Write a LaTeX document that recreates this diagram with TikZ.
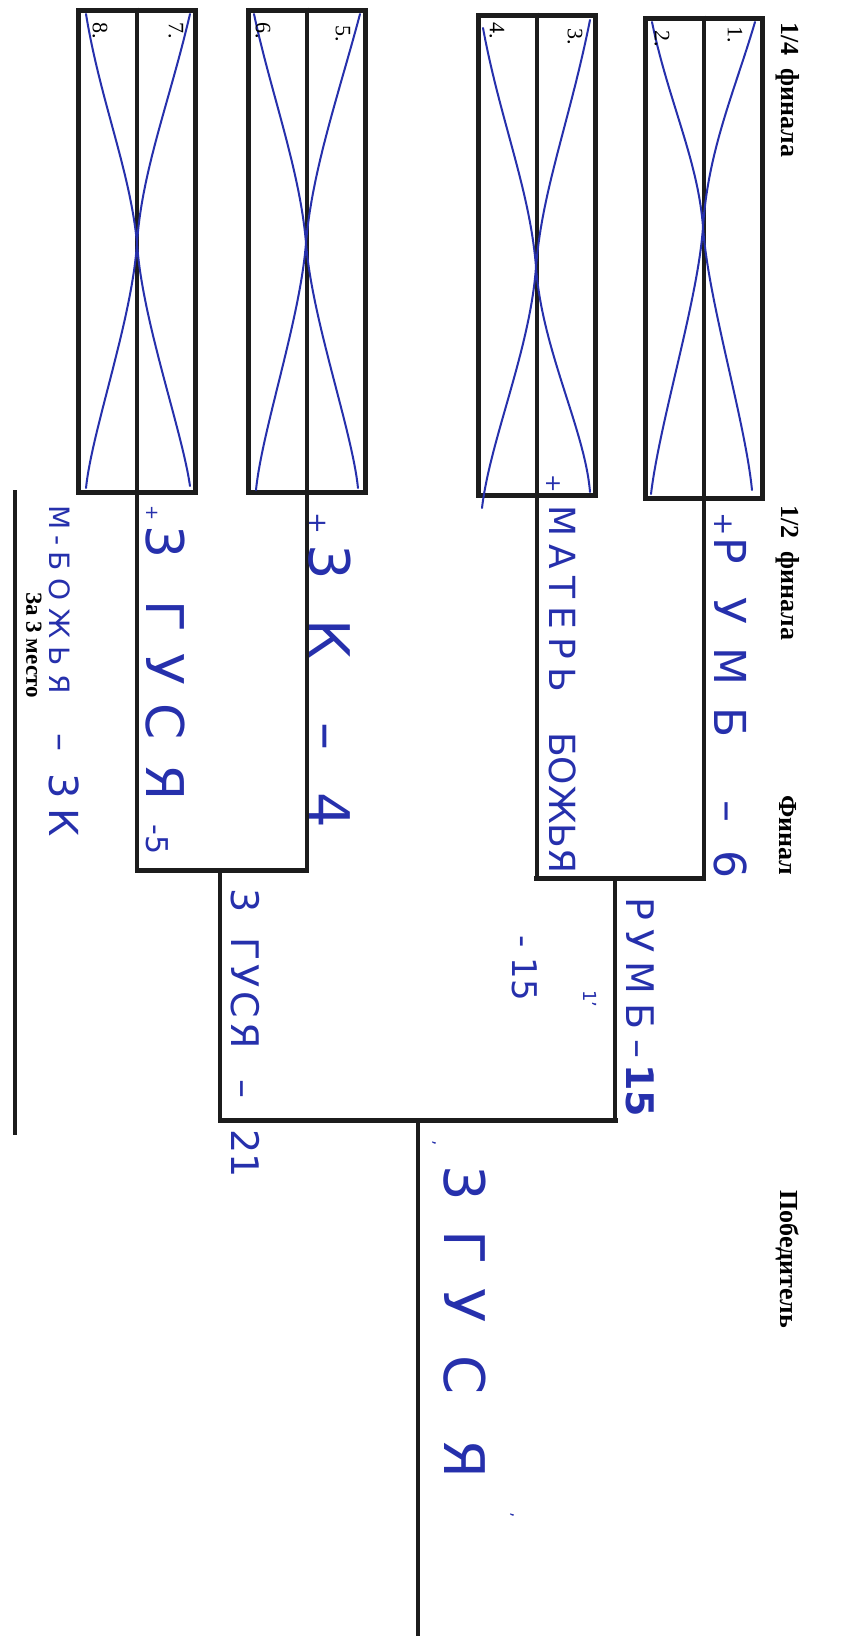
\documentclass[tikz,border=0pt]{standalone}
\usepackage{fontspec}
\setmainfont{Liberation Serif}
\newfontfamily\hand{DejaVu Sans}
\definecolor{ink}{RGB}{38,48,172}
\definecolor{lin}{RGB}{28,28,28}
\newcommand\gp[1]{\hspace{#1pt}}
\newcommand\fs[1]{\fontsize{#1}{#1}\selectfont}
\begin{document}
\begin{tikzpicture}[x=1pt,y=-1pt,
  box/.style={draw=lin, line width=5pt, minimum width=117pt, minimum height=480pt, inner sep=0pt},
  wire/.style={draw=lin, line width=4pt},
  bar/.style={draw=lin, line width=5pt, line cap=rect},
  pen/.style={draw=ink, line width=2pt, line cap=round},
  head/.style={font=\bfseries\fs{26}, rotate=-90, anchor=west, inner sep=0pt},
  num/.style={font=\fs{22}, rotate=-90, anchor=west, inner sep=0pt},
  hw/.style={text=ink, rotate=-90, anchor=west, inner sep=0pt},
]
\useasboundingbox (0,0) rectangle (850,1642);
\fill[white] (0,0) rectangle (850,1642);

% quarter-final boxes
\node[box] (q12) at (703.5,258) {};
\node[box] (q34) at (536.5,255) {};
\node[box, minimum height=482pt] (q56) at (306.5,251) {};
\node[box, minimum height=482pt] (q78) at (137,251) {};

% bracket coordinates
\coordinate (s1r) at (703.5,878);
\coordinate (s1l) at (536.5,878);
\coordinate (s1m) at (615,878);
\coordinate (s2r) at (306.5,870);
\coordinate (s2l) at (137,870);
\coordinate (s2m) at (220,870);
\coordinate (fr) at (615,1120);
\coordinate (fl) at (220,1120);
\coordinate (fm) at (418,1120);
\coordinate (wend) at (418,1636);
\coordinate (t3a) at (15,490);
\coordinate (t3b) at (15,1135);

\draw[wire] (q12.north) -- (s1r);
\draw[wire] (q34.north) -- (s1l);
\draw[wire] (q56.north) -- (s2r);
\draw[wire] (q78.north) -- (s2l);
\draw[bar] (s1l) -- (s1r);
\draw[bar] (s2l) -- (s2r);
\draw[wire] (s1m) -- (fr);
\draw[wire] (s2m) -- (fl);
\draw[bar] (fl) -- (fr);
\draw[wire] (fm) -- (wend);
\draw[wire] (t3a) -- (t3b);

% blue crosses
\draw[pen] (755,22) .. controls (735,90) and (708,150) .. (703,227) .. controls (698,300) and (660,420) .. (651,494);
\draw[pen] (652,22) .. controls (668,100) and (698,160) .. (703,227) .. controls (708,300) and (745,420) .. (752,490);
\draw[pen] (590,20) .. controls (570,120) and (542,190) .. (536,267) .. controls (530,350) and (490,440) .. (482,508);
\draw[pen] (483,28) .. controls (500,120) and (530,190) .. (536,267) .. controls (542,350) and (585,430) .. (590,492);
\draw[pen] (360,14) .. controls (340,90) and (312,170) .. (306,243) .. controls (300,320) and (262,430) .. (256,490);
\draw[pen] (254,14) .. controls (270,90) and (300,170) .. (306,243) .. controls (312,320) and (352,430) .. (358,488);
\draw[pen] (190,14) .. controls (170,100) and (142,170) .. (137,243) .. controls (132,320) and (92,430) .. (86,488);
\draw[pen] (86,14) .. controls (100,100) and (130,170) .. (137,243) .. controls (142,320) and (182,430) .. (190,486);

% printed headings
\node[head] (h14) at (788,22) {1/4\ \ финала};
\node[head] (h12) at (788,505) {1/2\ \ финала};
\node[head] (hfin) at (788,795) {Финал};
\node[head] (hwin) at (788,1190) {Победитель};
\node[head, font=\bfseries\fs{23}] (hthr) at (34,592) {За 3 место};

% seat numbers
\node[num] (n1) at (735,26) {1.};
\node[num] (n2) at (662,30) {2.};
\node[num] (n3) at (575,28) {3.};
\node[num] (n4) at (497,22) {4.};
\node[num] (n5) at (343,25) {5.};
\node[num] (n6) at (263,22) {6.};
\node[num] (n7) at (176,22) {7.};
\node[num] (n8) at (100,22) {8.};

% handwriting
\node[hw, font=\hand\fs{44}] (w1) at (731,512) {{\fs{28}+}\gp{2}Р\gp{33}У\gp{24}М\gp{22}Б\gp{62}–\gp{28}6};
\node[hw, font=\hand\fs{22}] (w2p) at (553,474) {+};
\node[hw, font=\hand\fs{36}] (w2) at (563,505) {М\gp{8}А\gp{8}Т\gp{8}Е\gp{8}Р\gp{8}Ь\gp{40}БОЖЬЯ};
\node[hw, font=\hand\fs{34}] (w3) at (525,935) {-\gp{10}15};
\node[hw, font=\hand\fs{18}] (w4) at (590,990) {1’};
\node[hw, font=\hand\fs{38}] (w5) at (640,897) {Р\gp{9}У\gp{9}М\gp{9}Б\gp{10}–\gp{6}\textbf{15}};
\node[hw, font=\hand\fs{56}] (w6) at (330,512) {{\fs{26}+}\gp{11}3\gp{39}К\gp{63}–\gp{42}4};
\node[hw, font=\hand\fs{52}] (w7) at (165,505) {{\fs{18}+}\gp{5}3\gp{42}Г\gp{21}У\gp{19}С\gp{24}Я\gp{24}{\fs{30}-5}};
\node[hw, font=\hand\fs{38}] (w8) at (245,888) {3\gp{25}Г\gp{4}У\gp{4}С\gp{4}Я\gp{31}–\gp{31}21};
\node[hw, font=\hand\fs{16}] (w9a) at (430,1140) {’};
\node[hw, font=\hand\fs{56}] (w9) at (465,1165) {3\gp{30}Г\gp{24}У\gp{32}С\gp{45}Я};
\node[hw, font=\hand\fs{16}] (w9b) at (508,1512) {’};
\node[hw, font=\hand\fs{28}] (w10) at (64,505) {М\gp{6}-\gp{6}Б\gp{8}О\gp{8}Ж\gp{8}Ь\gp{8}Я\gp{40}{\fs{36}–}\gp{22}{\fs{40}3\gp{10}К}};
\end{tikzpicture}
\end{document}
